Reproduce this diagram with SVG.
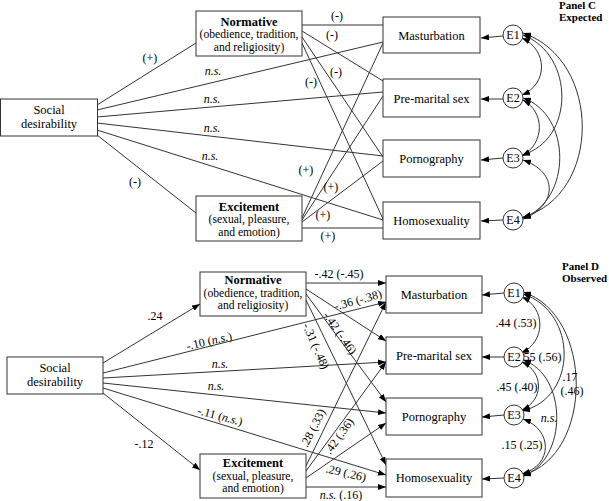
<svg xmlns="http://www.w3.org/2000/svg" width="609" height="501" viewBox="0 0 609 501">
<style>
text{font-family:"Liberation Serif","Times New Roman",serif;fill:#000;}
.bx{fill:#fff;stroke:#333;stroke-width:1;}
.t{font-size:12.5px;text-anchor:middle;}
.s{font-size:12px;text-anchor:middle;}
.p{font-size:11.6px;text-anchor:middle;}
.b{font-weight:bold;}
.i{font-style:italic;}
.ln{fill:none;stroke:#333;stroke-width:1;}
.ar{fill:none;stroke:#333;stroke-width:1;marker-end:url(#ah);}
.cv{fill:none;stroke:#333;stroke-width:1;marker-start:url(#ah);marker-end:url(#ah);}
.el{fill:#fff;stroke:#333;stroke-width:1;}
.pt{font-size:11px;font-weight:bold;}
</style>
<defs>
<marker id="ah" viewBox="0 0 8 6" refX="8" refY="3" markerWidth="8" markerHeight="6" markerUnits="userSpaceOnUse" orient="auto-start-reverse">
<path d="M0,0 L8,3 L0,6 z" fill="#000"/>
</marker>
</defs>
<rect width="609" height="501" fill="#fff"/>

<!-- ================= PANEL C ================= -->
<g id="connectors-c">
<path class="ln" d="M97,105 L196,43"/>
<path class="ln" d="M97,110 L383,42"/>
<path class="ln" d="M97,117 L383,92"/>
<path class="ln" d="M97,123 L383,156"/>
<path class="ln" d="M97,130 L383,220"/>
<path class="ln" d="M97,135 L196,213"/>
<path class="ln" d="M302,25 L383,25"/>
<path class="ln" d="M302,31 L383,81"/>
<path class="ln" d="M302,37 L383,157"/>
<path class="ln" d="M302,43 L383,219"/>
<path class="ln" d="M302,218 L383,43"/>
<path class="ln" d="M302,220 L383,96"/>
<path class="ln" d="M302,222 L383,161"/>
<path class="ln" d="M302,228 L383,228"/>
<path class="ar" d="M503,36 L481,38"/>
<path class="ar" d="M503,99 L481,99"/>
<path class="ar" d="M503,158 L481,160"/>
<path class="ar" d="M503,220 L481,221"/>
<path class="cv" d="M522,38 C548,50 548,84 522,95"/>
<path class="cv" d="M523,35 C575,55 575,140 522,155"/>
<path class="cv" d="M523,33 C602,60 602,195 523,217"/>
<path class="cv" d="M523,100 C545,112 545,143 522,156"/>
<path class="cv" d="M523,98 C572,115 572,200 523,218"/>
<path class="cv" d="M523,160 C558,172 558,205 523,219"/>
<text class="s" x="150" y="62">(+)</text>
<text class="s i" x="213" y="75">n.s.</text>
<text class="s i" x="212" y="103">n.s.</text>
<text class="s i" x="212" y="132">n.s.</text>
<text class="s i" x="210" y="160">n.s.</text>
<text class="s" x="135" y="186">(-)</text>
<text class="s" x="337" y="20">(-)</text>
<text class="s" x="332" y="39">(-)</text>
<text class="s" x="336" y="76">(-)</text>
<text class="s" x="311" y="86">(-)</text>
<text class="s" x="306" y="174">(+)</text>
<text class="s" x="331" y="191">(+)</text>
<text class="s" x="323" y="219">(+)</text>
<text class="s" x="328" y="240">(+)</text>
</g>

<g id="c-social"><rect class="bx" x="0.5" y="99" width="97" height="37"/>
<text class="t" x="49" y="114">Social</text><text class="t" x="49" y="128">desirability</text></g>
<g id="c-normative"><rect class="bx" x="196" y="11" width="106" height="45"/>
<text class="t b" x="249" y="25.5">Normative</text><text class="p" x="249" y="38">(obedience, tradition,</text><text class="p" x="249" y="50.5">and religiosity)</text></g>
<g id="c-excitement"><rect class="bx" x="196" y="196" width="106" height="45"/>
<text class="t b" x="249" y="210.5">Excitement</text><text class="p" x="249" y="223">(sexual, pleasure,</text><text class="p" x="249" y="235.5">and emotion)</text></g>
<g id="c-mast"><rect class="bx" x="383" y="17" width="97" height="36"/><text class="t" x="431.5" y="39.5">Masturbation</text></g>
<g id="c-prem"><rect class="bx" x="383" y="79" width="97" height="38"/><text class="t" x="431.5" y="102.5">Pre-marital sex</text></g>
<g id="c-porn"><rect class="bx" x="383" y="140" width="97" height="37"/><text class="t" x="431.5" y="162.5">Pornography</text></g>
<g id="c-homo"><rect class="bx" x="383" y="202" width="97" height="37"/><text class="t" x="431.5" y="224.5">Homosexuality</text></g>
<g id="c-e1"><circle class="el" cx="513" cy="35" r="10"/><text class="s" x="513" y="39">E1</text></g>
<g id="c-e2"><circle class="el" cx="513" cy="98" r="10"/><text class="s" x="513" y="102">E2</text></g>
<g id="c-e3"><circle class="el" cx="513" cy="158" r="10"/><text class="s" x="513" y="162">E3</text></g>
<g id="c-e4"><circle class="el" cx="513" cy="220" r="10"/><text class="s" x="513" y="224">E4</text></g>
<g id="c-title"><text class="pt" x="559" y="9">Panel C</text><text class="pt" x="559" y="21">Expected</text></g>

<!-- ================= PANEL D ================= -->
<g id="connectors-d">
<path class="ar" d="M103,363 L200,304"/>
<path class="ar" d="M103,373 L386,302"/>
<path class="ar" d="M103,378 L386,362"/>
<path class="ar" d="M103,383 L386,413"/>
<path class="ar" d="M103,388 L386,475"/>
<path class="ar" d="M103,393 L200,470"/>
<path class="ar" d="M306,283 L386,283"/>
<path class="ar" d="M306,289 L386,341"/>
<path class="ar" d="M306,294 L386,402"/>
<path class="ar" d="M306,300 L386,465"/>
<path class="ar" d="M306,466 L386,302"/>
<path class="ar" d="M306,471 L386,362"/>
<path class="ar" d="M306,478 L386,423"/>
<path class="ar" d="M306,487 L386,487"/>
<path class="ar" d="M504,293 L482,295"/>
<path class="ar" d="M504,357 L482,357"/>
<path class="ar" d="M504,415 L482,417"/>
<path class="ar" d="M504,478 L482,479"/>
<path class="cv" d="M522,297 C546,308 546,342 521,353"/>
<path class="cv" d="M523,294 C578,312 578,398 522,411"/>
<path class="cv" d="M523,292 C594,315 594,455 523,475"/>
<path class="cv" d="M522,362 C544,372 544,400 522,410"/>
<path class="cv" d="M523,360 C568,375 568,460 523,476"/>
<path class="cv" d="M523,419 C553,430 553,465 522,474"/>
<text class="s" x="155" y="320">.24</text>
<text class="s" transform="translate(209,341) rotate(-13)" x="0" y="4">-.10 (<tspan class="i">n.s.</tspan>)</text>
<text class="s i" x="220" y="368">n.s.</text>
<text class="s i" x="216" y="390">n.s.</text>
<text class="s" transform="translate(220,416) rotate(15)" x="0" y="4">-.11 (<tspan class="i">n.s.</tspan>)</text>
<text class="s" x="144" y="448">-.12</text>
<text class="s" x="339" y="278">-.42 (-.45)</text>
<text class="s" transform="translate(358,300) rotate(-15)" x="0" y="4">-.36 (-.38)</text>
<text class="s" transform="translate(340,333) rotate(55)" x="0" y="4">-.42 (-.46)</text>
<text class="s" transform="translate(316,346) rotate(66)" x="0" y="4">-.31 (-.48)</text>
<text class="s" transform="translate(313,428) rotate(-63)" x="0" y="4">.28 (.33)</text>
<text class="s" transform="translate(339,436) rotate(-54)" x="0" y="4">.42 (.36)</text>
<text class="s" transform="translate(346,473) rotate(13)" x="0" y="4">.29 (.26)</text>
<text class="s" x="341" y="499"><tspan class="i">n.s.</tspan> (.16)</text>
<text class="s" x="516" y="327">.44 (.53)</text>
<text class="s" x="541" y="361">.55 (.56)</text>
<text class="s" x="517" y="391">.45 (.40)</text>
<text class="s" x="570" y="381">.17</text>
<text class="s" x="572" y="394.5">(.46)</text>
<text class="s i" x="549" y="422">n.s.</text>
<text class="s" x="522" y="449">.15 (.25)</text>
</g>

<g id="d-social"><rect class="bx" x="7" y="357" width="96" height="37"/>
<text class="t" x="55" y="372">Social</text><text class="t" x="55" y="386">desirability</text></g>
<g id="d-normative"><rect class="bx" x="200" y="272" width="106" height="44"/>
<text class="t b" x="253" y="284">Normative</text><text class="p" x="253" y="296.5">(obedience, tradition,</text><text class="p" x="253" y="309">and religiosity)</text></g>
<g id="d-excitement"><rect class="bx" x="200" y="454" width="106" height="44"/>
<text class="t b" x="253" y="467">Excitement</text><text class="p" x="253" y="479.5">(sexual, pleasure,</text><text class="p" x="253" y="492">and emotion)</text></g>
<g id="d-mast"><rect class="bx" x="386" y="276" width="96" height="37"/><text class="t" x="434" y="299">Masturbation</text></g>
<g id="d-prem"><rect class="bx" x="386" y="337" width="96" height="37"/><text class="t" x="434" y="360">Pre-marital sex</text></g>
<g id="d-porn"><rect class="bx" x="386" y="398" width="96" height="37"/><text class="t" x="434" y="420.5">Pornography</text></g>
<g id="d-homo"><rect class="bx" x="386" y="459" width="96" height="38"/><text class="t" x="434" y="482">Homosexuality</text></g>
<g id="d-e1"><circle class="el" cx="514" cy="293" r="10"/><text class="s" x="514" y="297">E1</text></g>
<g id="d-e2"><circle class="el" cx="514" cy="357" r="10"/><text class="s" x="514" y="361">E2</text></g>
<g id="d-e3"><circle class="el" cx="514" cy="415" r="10"/><text class="s" x="514" y="419">E3</text></g>
<g id="d-e4"><circle class="el" cx="514" cy="478" r="10"/><text class="s" x="514" y="482">E4</text></g>
<g id="d-title"><text class="pt" x="562" y="270">Panel D</text><text class="pt" x="562" y="282">Observed</text></g>
</svg>
